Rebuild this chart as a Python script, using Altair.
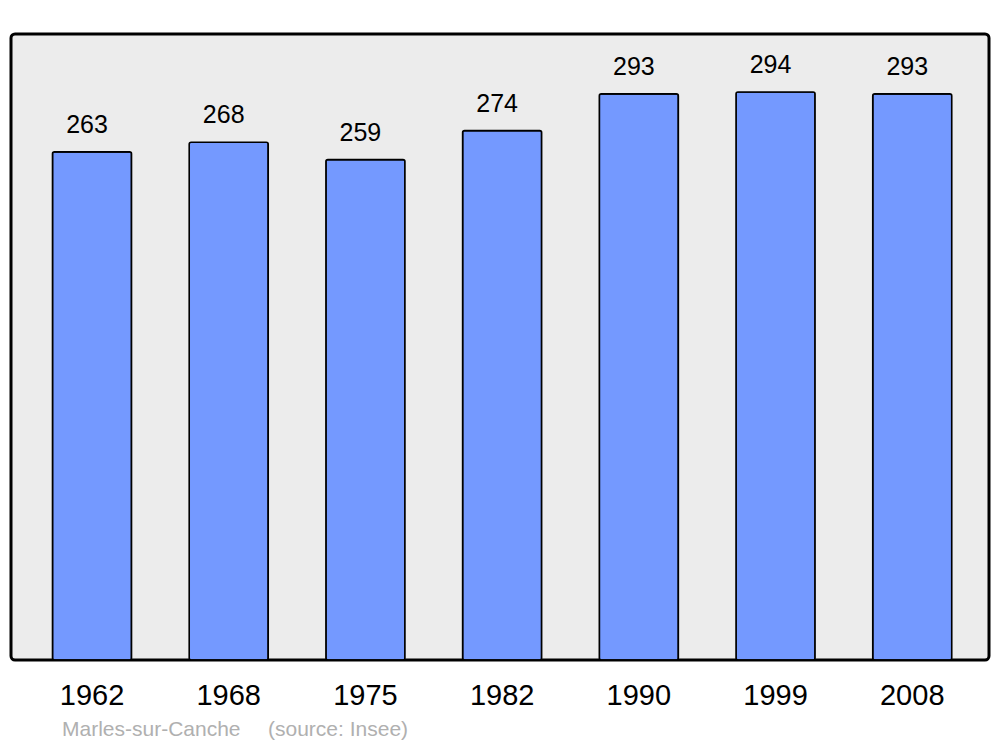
import altair as alt
import pandas as pd

years = ["1962", "1968", "1975", "1982", "1990", "1999", "2008"]
population = [263, 268, 259, 274, 293, 294, 293]
commune = "Marles-sur-Canche"
source = "(source: Insee)"

df = pd.DataFrame({"year": years, "pop": population})

x = alt.X("year:N", sort=years, title=None,
          scale=alt.Scale(paddingInner=0.422, paddingOuter=0.288, align=0.527, round=False),
          axis=alt.Axis(labelAngle=0, labelFontSize=29, labelFont="Liberation Sans",
                        labelColor="black", domain=False, ticks=False,
                        labelPadding=21, labelBaseline="top"))
y = alt.Y("pop:Q", title=None, scale=alt.Scale(domain=[0, 324], nice=False, zero=True),
          axis=None)

bars = alt.Chart(df).mark_bar(color="#7499ff", stroke="black", strokeWidth=1.6,
                              cornerRadius=2).encode(x=x, y=y)
labels = alt.Chart(df).mark_text(fontSize=25, font="Liberation Sans", color="black",
                                 baseline="bottom", dy=-14, dx=-5).encode(x=x, y=y, text="pop:Q")
src1 = alt.Chart(pd.DataFrame({"t": [commune]})).mark_text(
    fontSize=21, font="Liberation Sans", color="#b0b0b0", align="left",
    baseline="middle").encode(x=alt.value(51), y=alt.value(696), text="t:N")
src2 = alt.Chart(pd.DataFrame({"t": [source]})).mark_text(
    fontSize=21, font="Liberation Sans", color="#b0b0b0", align="left",
    baseline="middle").encode(x=alt.value(257), y=alt.value(696), text="t:N")

chart = alt.layer(bars, labels, src1, src2).properties(
    width=978, height=626,
    padding={"left": 3, "top": 26, "right": 3, "bottom": 80},
    autosize=alt.AutoSizeParams(type="none"),
    background="white",
).configure_view(
    fill="#ececec", stroke="black", strokeWidth=3, cornerRadius=4
)

chart.save("out.html", embed_options={"renderer": "svg", "actions": False})
